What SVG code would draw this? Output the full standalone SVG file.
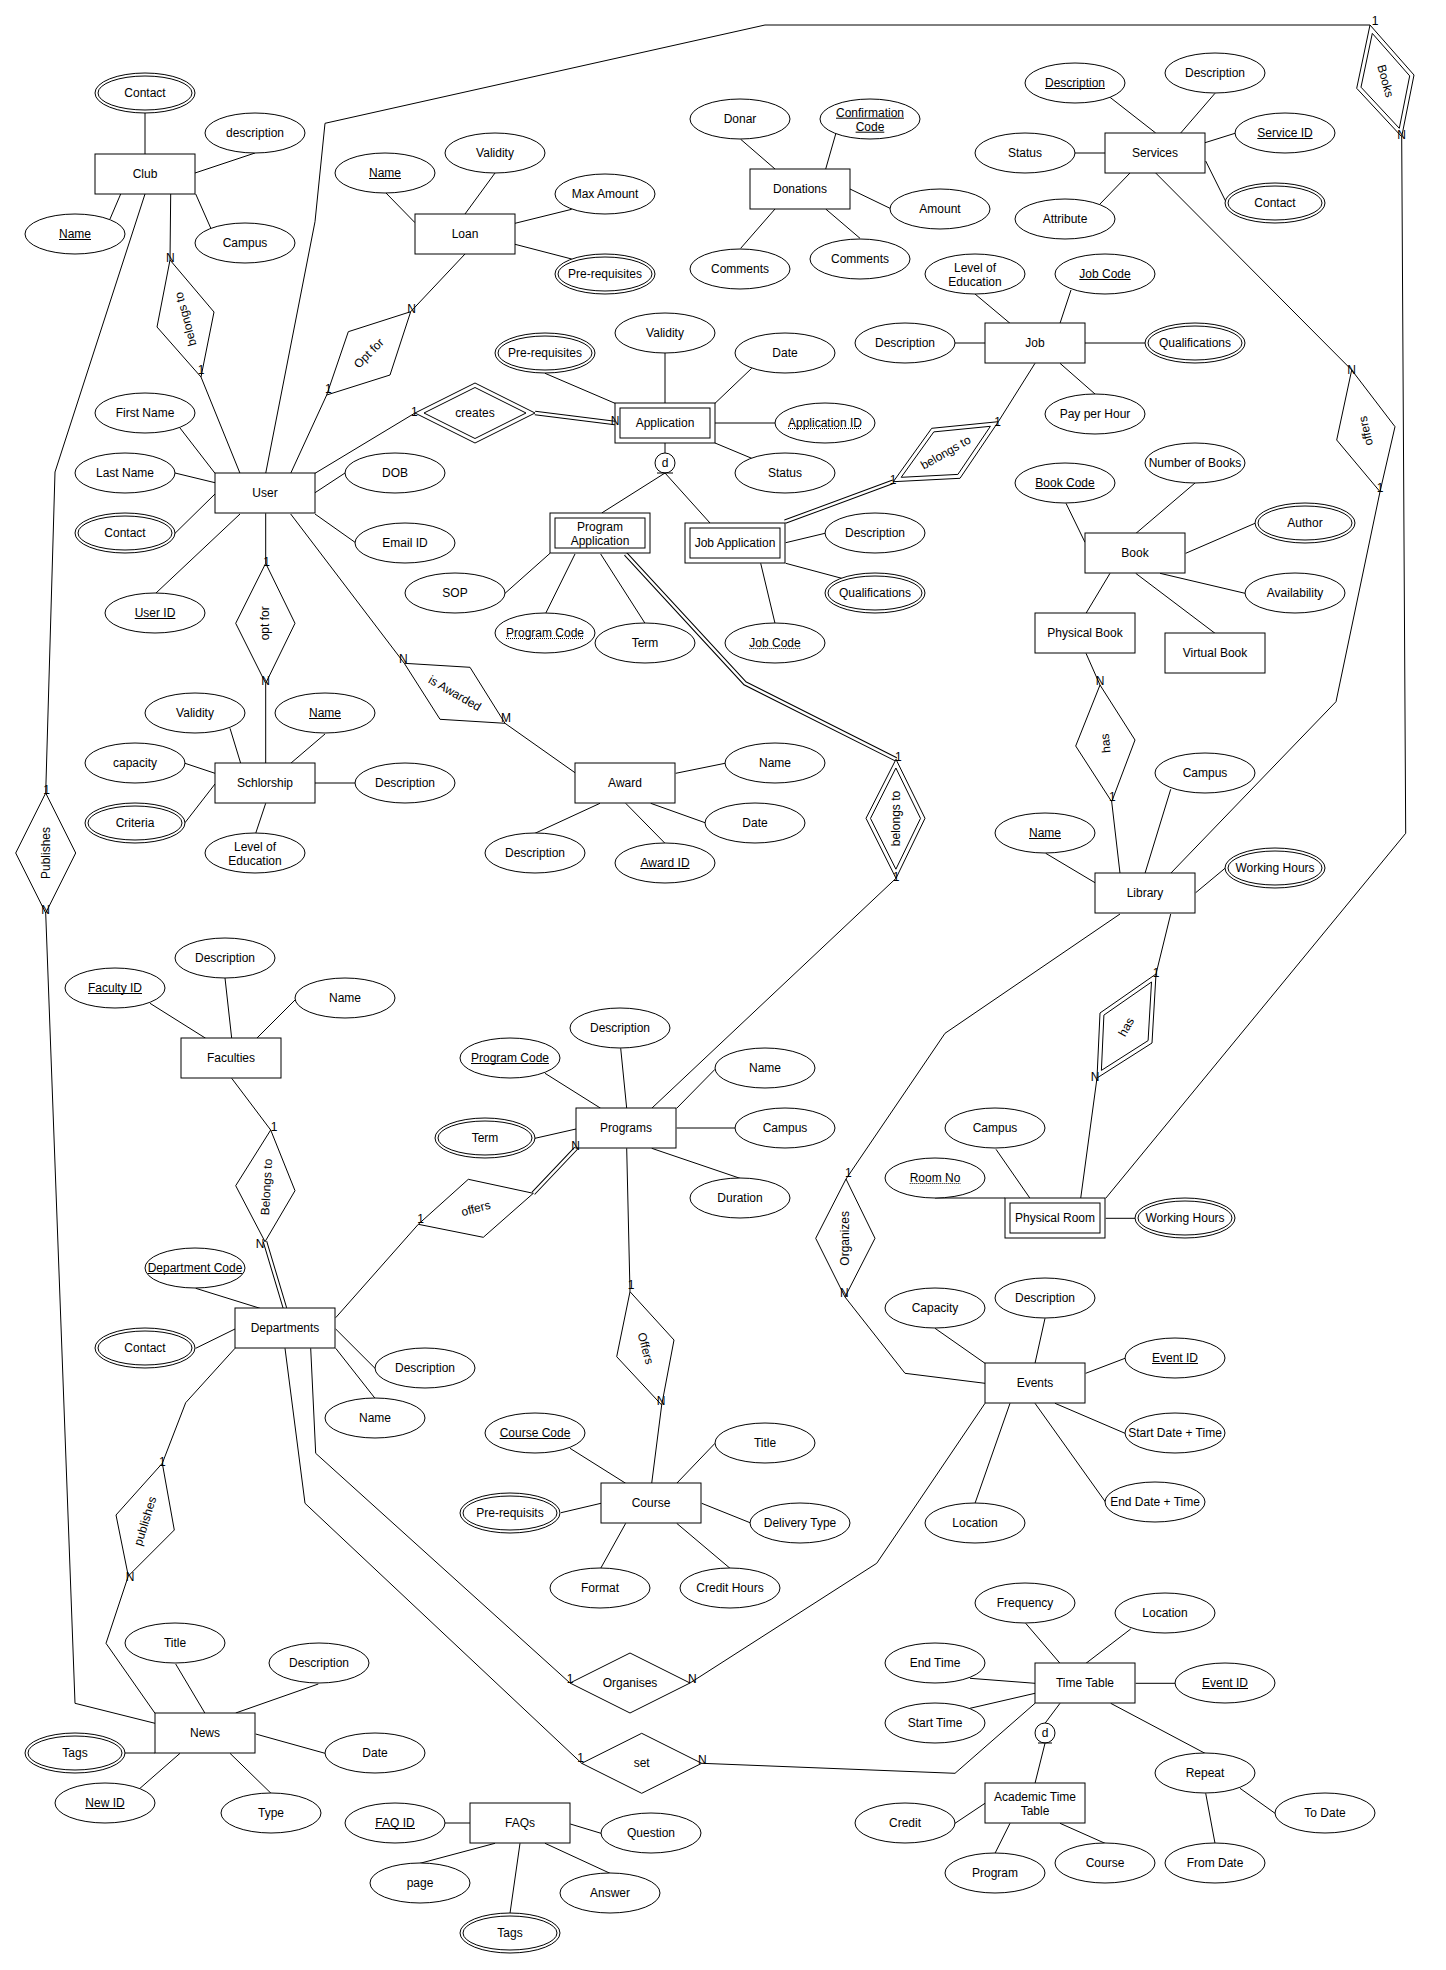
<svg xmlns="http://www.w3.org/2000/svg" width="1446" height="1970" viewBox="0 0 1446 1970">
<style>
.e{fill:#fff;stroke:#000;stroke-width:1}
.c{fill:none;stroke:#000;stroke-width:1}
.dl{fill:none;stroke:#000;stroke-width:4.5}
.dw{fill:none;stroke:#fff;stroke-width:2.5}
.t{font-family:"Liberation Sans",Arial,Helvetica,sans-serif;font-size:12px;text-anchor:middle;fill:#000}
.u{stroke:#000;stroke-width:1;fill:none}
.ud{stroke:#000;stroke-width:1;fill:none;stroke-dasharray:1 1}
</style>
<rect width="1446" height="1970" fill="#fff"/>
<g id="connectors">
<path class="c" d="M145 113L145 154M255 153L195 173M110 219L120.7 194M195.7 194L210.7 228M170.7 194L170 260M201 377L240 473.3"/>
<path class="c" d="M145 194L55 472L45.7 793M45.7 913L75 1703.3L155 1723.3"/>
<path class="c" d="M385.7 192.7L415 222.7M465 214L495 173M515 223.3L571.7 209.3M515 244.3L571.7 259M465 254L410.7 311.7M326.7 395L290.7 473.3"/>
<path class="c" d="M740.7 139.3L775 169M835.7 134L825.7 169M850 189L890 208.3M775 209L740.7 248.3M825.7 209L860 238.3"/>
<path class="c" d="M1110 97.3L1155.7 133M1215 93.3L1180.7 133M1075 153L1105 153M1205 142.7L1235 133.3M1205.7 161L1226.7 203.3M1130 173L1100 204M1155.7 173L1351.7 370M1380 491.7L1336 701.7L1170.7 873.3"/>
<path class="c" d="M975 294L1010 323.3M1071 290L1060 323.3M955 343L985 343M1085 343L1145 343M1060 363.3L1095 394M1035 363.3L998.3 421.7"/>
<path class="c" d="M665 353L665 403M545 373.3L615 403.3M751.7 368.3L715 403.3M715 423L775 423M715 443L751.7 458.3M665 443L665 453M665 473L601.7 513M665 473L710 523M315 473.3L415 413"/>
<path class="c" d="M180 428L215 473.3M175 473L215 482.7M345 473L315 492.7M175 533.3L215 494M155.7 593.3L240 514M315 514L355 542.3M265.7 513.3L265.7 563.3M265.7 683.3L265.7 763.3M290.7 514L404.3 663.3M505 723.3L575 772.7"/>
<path class="c" d="M265.7 473.3L315 221.7L325 123.3L765 25L1370 25M1401.7 136.7L1405.7 833.3L1105.7 1198.3"/>
<path class="c" d="M550 553.3L505 593.3M575 554L545.7 613.3M600.7 554L645 623.3M896 878.3L651.7 1108.3M785.7 542.7L825 533.3M785.7 563.3L841.7 578.3M760.7 563.3L775 623.3"/>
<path class="c" d="M1195 483L1136 533.3M1066 503.3L1085 542.3M1185.7 553.3L1255 523.3M1160 573.3L1245 593.3M1110 573.3L1086 613.3M1135.7 573.3L1215 633.3M1086 653.3L1100 685M1111.7 801.7L1120 873.3"/>
<path class="c" d="M1170.7 789.3L1145 873.3M1045.7 853.3L1095 882.7M1195.7 892.7L1225 868.3M1120 914L945 1033.3L846 1179M1170.7 914L1156 974M1097 1078L1080.7 1198.3"/>
<path class="c" d="M230 728.3L240.7 763.3M325 734L290.7 763.3M185 763.3L215 773.3M315 783L355 783M185 822.7L215 784M265.7 803.3L255.7 833.3"/>
<path class="c" d="M675.7 773.3L725 763.3M650.7 803.3L705 822.7M600 803.3L535 833.3M625.7 803.3L665 843.3"/>
<path class="c" d="M150 1003.3L205.7 1038.3M225 978L231.7 1038.3M295 1000L256.7 1038.3M231.7 1078.3L270.7 1130"/>
<path class="c" d="M195.7 1288.3L260 1308.3M195.7 1348.3L235 1329M335.7 1329L375 1368.3M335.7 1348.3L375 1398.3M335.7 1317.7L418.3 1224.3M235 1348.3L185.7 1402.7L162.3 1463.3M128.3 1576L106 1643.3L155 1713.3M285 1348.3L305 1503.3L581.7 1763.3M310.7 1348.3L315.7 1453.3L570 1683"/>
<path class="c" d="M620.7 1048.3L626.7 1108.3M545 1073.3L600.7 1108.3M676.7 1108.3L715 1069.3M676.7 1128L735 1128M651.7 1148.3L740 1178.3M535 1138.3L576 1129M626.7 1148.3L630 1291.7M661.7 1405L651.7 1483.3"/>
<path class="c" d="M996 1149.3L1030 1198.3M935 1198L1005 1198M1105.7 1218.3L1135 1218.3"/>
<path class="c" d="M935 1328.3L985 1363.3M1045 1318.3L1035 1363.3M1085.7 1373.3L1125 1358.3M1055 1403.3L1125 1433.3M1035 1403.3L1105.7 1502.3M1010 1403.3L975 1503.3M845 1297L905 1373.3L985 1383.3M985 1403.3L876.7 1563.3L690 1683"/>
<path class="c" d="M570 1448.3L625.7 1483.3M715 1443.3L676.7 1483.3M561 1512.7L601 1503.3M701.7 1503.3L750 1522.7M625.7 1523.3L600.7 1568.3M676.7 1523.3L730 1568.3"/>
<path class="c" d="M1025.7 1623.3L1060 1663.3M1130.7 1629L1086 1663.3M1135.7 1683.3L1175 1683.3M970 1678.3L1035 1683.3M970 1708.3L1035 1693.3M1035 1703.3L955 1773.3L701.7 1763.3M1060 1703.3L1045 1723.3M1045 1743.3L1035 1783.3M1110.7 1703.3L1205 1753.3M1240 1788.3L1275 1813.3M1205.7 1793.3L1215 1843.3"/>
<path class="c" d="M955 1823.3L985 1803.3M1010 1823.3L995 1853.3M1060 1823.3L1105 1843.3"/>
<path class="c" d="M175.7 1664L205 1713.3M318.3 1684L235.7 1713M255.7 1734L325 1753.3M125 1753L155 1753M180 1753.3L140 1788.3M230 1753.3L271 1793.3"/>
<path class="c" d="M445 1823L470 1823M570.3 1824L601 1833.3M545 1843.3L610 1873.3M520 1843.3L510 1913.3M495 1843.3L420 1863.3"/>
<path class="dl" d="M535 413L615 423M893.3 481.7L785 521.7M625.7 554L745 683.3L896 759.3M265 1241.7L285 1308.3M533.3 1193.3L576 1148.3"/>
<path class="dw" d="M535 413L615 423M893.3 481.7L785 521.7M625.7 554L745 683.3L896 759.3M265 1241.7L285 1308.3M533.3 1193.3L576 1148.3"/>
</g>

<g id="club"><rect class="e" x="95" y="154" width="100" height="40"/><text class="t" x="145" y="178">Club</text></g>
<g id="club-contact"><ellipse class="e" cx="145" cy="93" rx="50" ry="20"/><ellipse class="e" cx="145" cy="93" rx="47" ry="17"/><text class="t" x="145" y="97">Contact</text></g>
<g id="club-description"><ellipse class="e" cx="255" cy="133" rx="50" ry="20"/><text class="t" x="255" y="137">description</text></g>
<g id="club-name"><ellipse class="e" cx="75" cy="234" rx="50" ry="20"/><text class="t" x="75" y="238">Name</text><path class="u" d="M59 239.5h32"/></g>
<g id="club-campus"><ellipse class="e" cx="245" cy="243" rx="50" ry="20"/><text class="t" x="245" y="247">Campus</text></g>

<g id="loan"><rect class="e" x="415" y="214" width="100" height="40"/><text class="t" x="465" y="238">Loan</text></g>
<g id="loan-name"><ellipse class="e" cx="385" cy="173" rx="50" ry="20"/><text class="t" x="385" y="177">Name</text><path class="u" d="M369 178.5h32"/></g>
<g id="loan-validity"><ellipse class="e" cx="495" cy="153" rx="50" ry="20"/><text class="t" x="495" y="157">Validity</text></g>
<g id="loan-max"><ellipse class="e" cx="605" cy="194" rx="50" ry="20"/><text class="t" x="605" y="198">Max Amount</text></g>
<g id="loan-prereq"><ellipse class="e" cx="605" cy="274" rx="50" ry="20"/><ellipse class="e" cx="605" cy="274" rx="47" ry="17"/><text class="t" x="605" y="278">Pre-requisites</text></g>

<g id="donations"><rect class="e" x="750" y="169" width="100" height="40"/><text class="t" x="800" y="193">Donations</text></g>
<g id="don-donar"><ellipse class="e" cx="740" cy="119" rx="50" ry="20"/><text class="t" x="740" y="123">Donar</text></g>
<g id="don-code"><ellipse class="e" cx="870" cy="119" rx="50" ry="20"/><text class="t" x="870" y="117">Confirmation</text><text class="t" x="870" y="131">Code</text><path class="u" d="M836 118.2h68M855.6 132.2h28.7"/></g>
<g id="don-amount"><ellipse class="e" cx="940" cy="209" rx="50" ry="20"/><text class="t" x="940" y="213">Amount</text></g>
<g id="don-comments1"><ellipse class="e" cx="740" cy="269" rx="50" ry="20"/><text class="t" x="740" y="273">Comments</text></g>
<g id="don-comments2"><ellipse class="e" cx="860" cy="259" rx="50" ry="20"/><text class="t" x="860" y="263">Comments</text></g>

<g id="services"><rect class="e" x="1105" y="133" width="100" height="40"/><text class="t" x="1155" y="157">Services</text></g>
<g id="srv-desc-key"><ellipse class="e" cx="1075" cy="83" rx="50" ry="20"/><text class="t" x="1075" y="87">Description</text><path class="u" d="M1045 88.5h60"/></g>
<g id="srv-desc"><ellipse class="e" cx="1215" cy="73" rx="50" ry="20"/><text class="t" x="1215" y="77">Description</text></g>
<g id="srv-status"><ellipse class="e" cx="1025" cy="153" rx="50" ry="20"/><text class="t" x="1025" y="157">Status</text></g>
<g id="srv-id"><ellipse class="e" cx="1285" cy="133" rx="50" ry="20"/><text class="t" x="1285" y="137">Service ID</text><path class="u" d="M1257.3 138.5h55.3"/></g>
<g id="srv-contact"><ellipse class="e" cx="1275" cy="203" rx="50" ry="20"/><ellipse class="e" cx="1275" cy="203" rx="47" ry="17"/><text class="t" x="1275" y="207">Contact</text></g>
<g id="srv-attr"><ellipse class="e" cx="1065" cy="219" rx="50" ry="20"/><text class="t" x="1065" y="223">Attribute</text></g>

<g id="job"><rect class="e" x="985" y="323" width="100" height="40"/><text class="t" x="1035" y="347">Job</text></g>
<g id="job-loe"><ellipse class="e" cx="975" cy="274" rx="50" ry="20"/><text class="t" x="975" y="272">Level of</text><text class="t" x="975" y="286">Education</text></g>
<g id="job-code"><ellipse class="e" cx="1105" cy="274" rx="50" ry="20"/><text class="t" x="1105" y="278">Job Code</text><path class="u" d="M1079.3 279.5h51.4"/></g>
<g id="job-desc"><ellipse class="e" cx="905" cy="343" rx="50" ry="20"/><text class="t" x="905" y="347">Description</text></g>
<g id="job-qual"><ellipse class="e" cx="1195" cy="343" rx="50" ry="20"/><ellipse class="e" cx="1195" cy="343" rx="47" ry="17"/><text class="t" x="1195" y="347">Qualifications</text></g>
<g id="job-pay"><ellipse class="e" cx="1095" cy="414" rx="50" ry="20"/><text class="t" x="1095" y="418">Pay per Hour</text></g>

<g id="application"><rect class="e" x="615" y="403" width="100" height="40"/><rect class="e" x="620" y="408" width="90" height="30"/><text class="t" x="665" y="427">Application</text></g>
<g id="app-prereq"><ellipse class="e" cx="545" cy="353" rx="50" ry="20"/><ellipse class="e" cx="545" cy="353" rx="47" ry="17"/><text class="t" x="545" y="357">Pre-requisites</text></g>
<g id="app-validity"><ellipse class="e" cx="665" cy="333" rx="50" ry="20"/><text class="t" x="665" y="337">Validity</text></g>
<g id="app-date"><ellipse class="e" cx="785" cy="353" rx="50" ry="20"/><text class="t" x="785" y="357">Date</text></g>
<g id="app-id"><ellipse class="e" cx="825" cy="423" rx="50" ry="20"/><text class="t" x="825" y="427">Application ID</text><path class="ud" d="M788 428.5h74"/></g>
<g id="app-status"><ellipse class="e" cx="785" cy="473" rx="50" ry="20"/><text class="t" x="785" y="477">Status</text></g>
<g id="app-disjoint"><circle class="e" cx="665" cy="463" r="10"/><text class="t" x="665" y="467">d</text><path class="u" d="M657 473h16"/></g>

<g id="user"><rect class="e" x="215" y="473" width="100" height="40"/><text class="t" x="265" y="497">User</text></g>
<g id="user-first"><ellipse class="e" cx="145" cy="413" rx="50" ry="20"/><text class="t" x="145" y="417">First Name</text></g>
<g id="user-last"><ellipse class="e" cx="125" cy="473" rx="50" ry="20"/><text class="t" x="125" y="477">Last Name</text></g>
<g id="user-dob"><ellipse class="e" cx="395" cy="473" rx="50" ry="20"/><text class="t" x="395" y="477">DOB</text></g>
<g id="user-contact"><ellipse class="e" cx="125" cy="533" rx="50" ry="20"/><ellipse class="e" cx="125" cy="533" rx="47" ry="17"/><text class="t" x="125" y="537">Contact</text></g>
<g id="user-email"><ellipse class="e" cx="405" cy="543" rx="50" ry="20"/><text class="t" x="405" y="547">Email ID</text></g>
<g id="user-id"><ellipse class="e" cx="155" cy="613" rx="50" ry="20"/><text class="t" x="155" y="617">User ID</text><path class="u" d="M134.7 618.5h40.7"/></g>

<g id="program-application"><rect class="e" x="550" y="513" width="100" height="40"/><rect class="e" x="555" y="518" width="90" height="30"/><text class="t" x="600" y="531">Program</text><text class="t" x="600" y="545">Application</text></g>
<g id="pa-sop"><ellipse class="e" cx="455" cy="593" rx="50" ry="20"/><text class="t" x="455" y="597">SOP</text></g>
<g id="pa-code"><ellipse class="e" cx="545" cy="633" rx="50" ry="20"/><text class="t" x="545" y="637">Program Code</text><path class="ud" d="M506 638.5h78"/></g>
<g id="pa-term"><ellipse class="e" cx="645" cy="643" rx="50" ry="20"/><text class="t" x="645" y="647">Term</text></g>

<g id="job-application"><rect class="e" x="685" y="523" width="100" height="40"/><rect class="e" x="690" y="528" width="90" height="30"/><text class="t" x="735" y="547">Job Application</text></g>
<g id="ja-desc"><ellipse class="e" cx="875" cy="533" rx="50" ry="20"/><text class="t" x="875" y="537">Description</text></g>
<g id="ja-qual"><ellipse class="e" cx="875" cy="593" rx="50" ry="20"/><ellipse class="e" cx="875" cy="593" rx="47" ry="17"/><text class="t" x="875" y="597">Qualifications</text></g>
<g id="ja-code"><ellipse class="e" cx="775" cy="643" rx="50" ry="20"/><text class="t" x="775" y="647">Job Code</text><path class="ud" d="M749.3 648.5h51.4"/></g>

<g id="book"><rect class="e" x="1085" y="533" width="100" height="40"/><text class="t" x="1135" y="557">Book</text></g>
<g id="book-code"><ellipse class="e" cx="1065" cy="483" rx="50" ry="20"/><text class="t" x="1065" y="487">Book Code</text><path class="u" d="M1035.3 488.5h59.4"/></g>
<g id="book-num"><ellipse class="e" cx="1195" cy="463" rx="50" ry="20"/><text class="t" x="1195" y="467">Number of Books</text></g>
<g id="book-author"><ellipse class="e" cx="1305" cy="523" rx="50" ry="20"/><ellipse class="e" cx="1305" cy="523" rx="47" ry="17"/><text class="t" x="1305" y="527">Author</text></g>
<g id="book-avail"><ellipse class="e" cx="1295" cy="593" rx="50" ry="20"/><text class="t" x="1295" y="597">Availability</text></g>
<g id="physical-book"><rect class="e" x="1035" y="613" width="100" height="40"/><text class="t" x="1085" y="637">Physical Book</text></g>
<g id="virtual-book"><rect class="e" x="1165" y="633" width="100" height="40"/><text class="t" x="1215" y="657">Virtual Book</text></g>

<g id="schlorship"><rect class="e" x="215" y="763" width="100" height="40"/><text class="t" x="265" y="787">Schlorship</text></g>
<g id="sch-validity"><ellipse class="e" cx="195" cy="713" rx="50" ry="20"/><text class="t" x="195" y="717">Validity</text></g>
<g id="sch-name"><ellipse class="e" cx="325" cy="713" rx="50" ry="20"/><text class="t" x="325" y="717">Name</text><path class="u" d="M309 718.5h32"/></g>
<g id="sch-capacity"><ellipse class="e" cx="135" cy="763" rx="50" ry="20"/><text class="t" x="135" y="767">capacity</text></g>
<g id="sch-desc"><ellipse class="e" cx="405" cy="783" rx="50" ry="20"/><text class="t" x="405" y="787">Description</text></g>
<g id="sch-criteria"><ellipse class="e" cx="135" cy="823" rx="50" ry="20"/><ellipse class="e" cx="135" cy="823" rx="47" ry="17"/><text class="t" x="135" y="827">Criteria</text></g>
<g id="sch-loe"><ellipse class="e" cx="255" cy="853" rx="50" ry="20"/><text class="t" x="255" y="851">Level of</text><text class="t" x="255" y="865">Education</text></g>

<g id="award"><rect class="e" x="575" y="763" width="100" height="40"/><text class="t" x="625" y="787">Award</text></g>
<g id="aw-name"><ellipse class="e" cx="775" cy="763" rx="50" ry="20"/><text class="t" x="775" y="767">Name</text></g>
<g id="aw-date"><ellipse class="e" cx="755" cy="823" rx="50" ry="20"/><text class="t" x="755" y="827">Date</text></g>
<g id="aw-desc"><ellipse class="e" cx="535" cy="853" rx="50" ry="20"/><text class="t" x="535" y="857">Description</text></g>
<g id="aw-id"><ellipse class="e" cx="665" cy="863" rx="50" ry="20"/><text class="t" x="665" y="867">Award ID</text><path class="u" d="M640.3 868.5h49.3"/></g>

<g id="library"><rect class="e" x="1095" y="873" width="100" height="40"/><text class="t" x="1145" y="897">Library</text></g>
<g id="lib-campus"><ellipse class="e" cx="1205" cy="773" rx="50" ry="20"/><text class="t" x="1205" y="777">Campus</text></g>
<g id="lib-name"><ellipse class="e" cx="1045" cy="833" rx="50" ry="20"/><text class="t" x="1045" y="837">Name</text><path class="u" d="M1029 838.5h32"/></g>
<g id="lib-hours"><ellipse class="e" cx="1275" cy="868" rx="50" ry="20"/><ellipse class="e" cx="1275" cy="868" rx="47" ry="17"/><text class="t" x="1275" y="872">Working Hours</text></g>

<g id="faculties"><rect class="e" x="181" y="1038" width="100" height="40"/><text class="t" x="231" y="1062">Faculties</text></g>
<g id="fac-desc"><ellipse class="e" cx="225" cy="958" rx="50" ry="20"/><text class="t" x="225" y="962">Description</text></g>
<g id="fac-id"><ellipse class="e" cx="115" cy="988" rx="50" ry="20"/><text class="t" x="115" y="992">Faculty ID</text><path class="u" d="M88 993.5h54"/></g>
<g id="fac-name"><ellipse class="e" cx="345" cy="998" rx="50" ry="20"/><text class="t" x="345" y="1002">Name</text></g>

<g id="programs"><rect class="e" x="576" y="1108" width="100" height="40"/><text class="t" x="626" y="1132">Programs</text></g>
<g id="prog-desc"><ellipse class="e" cx="620" cy="1028" rx="50" ry="20"/><text class="t" x="620" y="1032">Description</text></g>
<g id="prog-code"><ellipse class="e" cx="510" cy="1058" rx="50" ry="20"/><text class="t" x="510" y="1062">Program Code</text><path class="u" d="M471 1063.5h78"/></g>
<g id="prog-name"><ellipse class="e" cx="765" cy="1068" rx="50" ry="20"/><text class="t" x="765" y="1072">Name</text></g>
<g id="prog-term"><ellipse class="e" cx="485" cy="1138" rx="50" ry="20"/><ellipse class="e" cx="485" cy="1138" rx="47" ry="17"/><text class="t" x="485" y="1142">Term</text></g>
<g id="prog-campus"><ellipse class="e" cx="785" cy="1128" rx="50" ry="20"/><text class="t" x="785" y="1132">Campus</text></g>
<g id="prog-duration"><ellipse class="e" cx="740" cy="1198" rx="50" ry="20"/><text class="t" x="740" y="1202">Duration</text></g>

<g id="physical-room"><rect class="e" x="1005" y="1198" width="100" height="40"/><rect class="e" x="1010" y="1203" width="90" height="30"/><text class="t" x="1055" y="1222">Physical Room</text></g>
<g id="room-campus"><ellipse class="e" cx="995" cy="1128" rx="50" ry="20"/><text class="t" x="995" y="1132">Campus</text></g>
<g id="room-no"><ellipse class="e" cx="935" cy="1178" rx="50" ry="20"/><text class="t" x="935" y="1182">Room No</text><path class="ud" d="M909.7 1183.5h50.7"/></g>
<g id="room-hours"><ellipse class="e" cx="1185" cy="1218" rx="50" ry="20"/><ellipse class="e" cx="1185" cy="1218" rx="47" ry="17"/><text class="t" x="1185" y="1222">Working Hours</text></g>

<g id="departments"><rect class="e" x="235" y="1308" width="100" height="40"/><text class="t" x="285" y="1332">Departments</text></g>
<g id="dep-code"><ellipse class="e" cx="195" cy="1268" rx="50" ry="20"/><text class="t" x="195" y="1272">Department Code</text><path class="u" d="M147.7 1273.5h94.7"/></g>
<g id="dep-contact"><ellipse class="e" cx="145" cy="1348" rx="50" ry="20"/><ellipse class="e" cx="145" cy="1348" rx="47" ry="17"/><text class="t" x="145" y="1352">Contact</text></g>
<g id="dep-desc"><ellipse class="e" cx="425" cy="1368" rx="50" ry="20"/><text class="t" x="425" y="1372">Description</text></g>
<g id="dep-name"><ellipse class="e" cx="375" cy="1418" rx="50" ry="20"/><text class="t" x="375" y="1422">Name</text></g>

<g id="events"><rect class="e" x="985" y="1363" width="100" height="40"/><text class="t" x="1035" y="1387">Events</text></g>
<g id="ev-capacity"><ellipse class="e" cx="935" cy="1308" rx="50" ry="20"/><text class="t" x="935" y="1312">Capacity</text></g>
<g id="ev-desc"><ellipse class="e" cx="1045" cy="1298" rx="50" ry="20"/><text class="t" x="1045" y="1302">Description</text></g>
<g id="ev-id"><ellipse class="e" cx="1175" cy="1358" rx="50" ry="20"/><text class="t" x="1175" y="1362">Event ID</text><path class="u" d="M1152 1363.5h46"/></g>
<g id="ev-start"><ellipse class="e" cx="1175" cy="1433" rx="50" ry="20"/><text class="t" x="1175" y="1437">Start Date + Time</text></g>
<g id="ev-end"><ellipse class="e" cx="1155" cy="1502" rx="50" ry="20"/><text class="t" x="1155" y="1506">End Date + Time</text></g>
<g id="ev-location"><ellipse class="e" cx="975" cy="1523" rx="50" ry="20"/><text class="t" x="975" y="1527">Location</text></g>

<g id="course"><rect class="e" x="601" y="1483" width="100" height="40"/><text class="t" x="651" y="1507">Course</text></g>
<g id="co-code"><ellipse class="e" cx="535" cy="1433" rx="50" ry="20"/><text class="t" x="535" y="1437">Course Code</text><path class="u" d="M499.7 1438.5h70.7"/></g>
<g id="co-title"><ellipse class="e" cx="765" cy="1443" rx="50" ry="20"/><text class="t" x="765" y="1447">Title</text></g>
<g id="co-prereq"><ellipse class="e" cx="510" cy="1513" rx="50" ry="20"/><ellipse class="e" cx="510" cy="1513" rx="47" ry="17"/><text class="t" x="510" y="1517">Pre-requisits</text></g>
<g id="co-delivery"><ellipse class="e" cx="800" cy="1523" rx="50" ry="20"/><text class="t" x="800" y="1527">Delivery Type</text></g>
<g id="co-format"><ellipse class="e" cx="600" cy="1588" rx="50" ry="20"/><text class="t" x="600" y="1592">Format</text></g>
<g id="co-credit"><ellipse class="e" cx="730" cy="1588" rx="50" ry="20"/><text class="t" x="730" y="1592">Credit Hours</text></g>

<g id="time-table"><rect class="e" x="1035" y="1663" width="100" height="40"/><text class="t" x="1085" y="1687">Time Table</text></g>
<g id="tt-freq"><ellipse class="e" cx="1025" cy="1603" rx="50" ry="20"/><text class="t" x="1025" y="1607">Frequency</text></g>
<g id="tt-location"><ellipse class="e" cx="1165" cy="1613" rx="50" ry="20"/><text class="t" x="1165" y="1617">Location</text></g>
<g id="tt-end"><ellipse class="e" cx="935" cy="1663" rx="50" ry="20"/><text class="t" x="935" y="1667">End Time</text></g>
<g id="tt-id"><ellipse class="e" cx="1225" cy="1683" rx="50" ry="20"/><text class="t" x="1225" y="1687">Event ID</text><path class="u" d="M1202 1688.5h46"/></g>
<g id="tt-start"><ellipse class="e" cx="935" cy="1723" rx="50" ry="20"/><text class="t" x="935" y="1727">Start Time</text></g>
<g id="tt-repeat"><ellipse class="e" cx="1205" cy="1773" rx="50" ry="20"/><text class="t" x="1205" y="1777">Repeat</text></g>
<g id="tt-todate"><ellipse class="e" cx="1325" cy="1813" rx="50" ry="20"/><text class="t" x="1325" y="1817">To Date</text></g>
<g id="tt-fromdate"><ellipse class="e" cx="1215" cy="1863" rx="50" ry="20"/><text class="t" x="1215" y="1867">From Date</text></g>
<g id="tt-disjoint"><circle class="e" cx="1045" cy="1733" r="10"/><text class="t" x="1045" y="1737">d</text><path class="u" d="M1038 1743h14"/></g>

<g id="academic-time-table"><rect class="e" x="985" y="1783" width="100" height="40"/><text class="t" x="1035" y="1801">Academic Time</text><text class="t" x="1035" y="1815">Table</text></g>
<g id="att-credit"><ellipse class="e" cx="905" cy="1823" rx="50" ry="20"/><text class="t" x="905" y="1827">Credit</text></g>
<g id="att-program"><ellipse class="e" cx="995" cy="1873" rx="50" ry="20"/><text class="t" x="995" y="1877">Program</text></g>
<g id="att-course"><ellipse class="e" cx="1105" cy="1863" rx="50" ry="20"/><text class="t" x="1105" y="1867">Course</text></g>

<g id="news"><rect class="e" x="155" y="1713" width="100" height="40"/><text class="t" x="205" y="1737">News</text></g>
<g id="news-title"><ellipse class="e" cx="175" cy="1643" rx="50" ry="20"/><text class="t" x="175" y="1647">Title</text></g>
<g id="news-desc"><ellipse class="e" cx="319" cy="1663" rx="50" ry="20"/><text class="t" x="319" y="1667">Description</text></g>
<g id="news-tags"><ellipse class="e" cx="75" cy="1753" rx="50" ry="20"/><ellipse class="e" cx="75" cy="1753" rx="47" ry="17"/><text class="t" x="75" y="1757">Tags</text></g>
<g id="news-date"><ellipse class="e" cx="375" cy="1753" rx="50" ry="20"/><text class="t" x="375" y="1757">Date</text></g>
<g id="news-id"><ellipse class="e" cx="105" cy="1803" rx="50" ry="20"/><text class="t" x="105" y="1807">New ID</text><path class="u" d="M85.3 1808.5h39.3"/></g>
<g id="news-type"><ellipse class="e" cx="271" cy="1813" rx="50" ry="20"/><text class="t" x="271" y="1817">Type</text></g>

<g id="faqs"><rect class="e" x="470" y="1803" width="100" height="40"/><text class="t" x="520" y="1827">FAQs</text></g>
<g id="faq-id"><ellipse class="e" cx="395" cy="1823" rx="50" ry="20"/><text class="t" x="395" y="1827">FAQ ID</text><path class="u" d="M375 1828.5h40"/></g>
<g id="faq-question"><ellipse class="e" cx="651" cy="1833" rx="50" ry="20"/><text class="t" x="651" y="1837">Question</text></g>
<g id="faq-page"><ellipse class="e" cx="420" cy="1883" rx="50" ry="20"/><text class="t" x="420" y="1887">page</text></g>
<g id="faq-answer"><ellipse class="e" cx="610" cy="1893" rx="50" ry="20"/><text class="t" x="610" y="1897">Answer</text></g>
<g id="faq-tags"><ellipse class="e" cx="510" cy="1933" rx="50" ry="20"/><ellipse class="e" cx="510" cy="1933" rx="47" ry="17"/><text class="t" x="510" y="1937">Tags</text></g>

<g id="rel-club-belongs"><polygon class="e" points="170,260 214,312 201,377 157,327"/><text class="t" transform="rotate(-105 185.5 319)" x="185.5" y="323">belongs to</text></g>
<g id="rel-opt-for-loan"><polygon class="e" points="410.7,311.7 390,375 326.7,395 348.3,331.7"/><text class="t" transform="rotate(-45 368.8 353.3)" x="368.8" y="357.3">Opt for</text></g>
<g id="rel-creates"><polygon class="e" points="415,413 475,383 535,413 475,443"/><polygon class="e" points="424,413 475,387.5 526,413 475,438.5"/><text class="t" x="475" y="417">creates</text></g>
<g id="rel-job-belongs"><polygon class="e" points="893.3,481.7 931.7,428.3 998.3,421.7 960,478.3"/><polygon class="e" points="901.2,477.3 933.8,431.9 990.4,426.3 957.9,474.4"/><text class="t" transform="rotate(-30 945.8 452.5)" x="945.8" y="456.5">belongs to</text></g>
<g id="rel-books"><polygon class="e" points="1370,25 1414,75 1401.7,136.7 1356.7,88.3"/><polygon class="e" points="1372.3,33.4 1409.7,75.9 1399.3,128.3 1361,87.2"/><text class="t" transform="rotate(75 1385.5 81)" x="1385.5" y="85">Books</text></g>
<g id="rel-offers-services"><polygon class="e" points="1351.7,370 1395,426.7 1380,491.7 1336.7,440"/><text class="t" transform="rotate(-103 1365.8 430.8)" x="1365.8" y="434.8">offers</text></g>
<g id="rel-has-book"><polygon class="e" points="1100,685 1135,740 1111.7,801.7 1075.7,746"/><text class="t" transform="rotate(-96 1105.6 743.2)" x="1105.6" y="747.2">has</text></g>
<g id="rel-has-room"><polygon class="e" points="1156,974 1152,1043 1097,1078 1100,1013"/><polygon class="e" points="1151.5,982 1148.1,1040.6 1101.4,1070.4 1103.9,1015.1"/><text class="t" transform="rotate(-60 1126.3 1027)" x="1126.3" y="1031">has</text></g>
<g id="rel-opt-for-sch"><polygon class="e" points="265.7,563.3 295,623.3 265.7,683.3 235.7,623.3"/><text class="t" transform="rotate(-90 265.5 623.3)" x="265.5" y="627.3">opt for</text></g>
<g id="rel-is-awarded"><polygon class="e" points="404.3,663.3 470,667.3 505,723.3 440,719.3"/><text class="t" transform="rotate(30 454.8 693.3)" x="454.8" y="697.3">is Awarded</text></g>
<g id="rel-publishes-club"><polygon class="e" points="45.7,793 75.7,853 45.7,913 15.7,853"/><text class="t" transform="rotate(-90 45.7 853)" x="45.7" y="857">Publishes</text></g>
<g id="rel-pa-belongs"><polygon class="e" points="896,759.3 925,818.3 896,878.3 866,818.3"/><polygon class="e" points="895.9,768 920.5,818.4 895.9,869.2 870.5,818.4"/><text class="t" transform="rotate(-90 895.5 818.5)" x="895.5" y="822.5">belongs to</text></g>
<g id="rel-fac-belongs"><polygon class="e" points="270.7,1130 295,1190.7 265,1241.7 235.7,1185.7"/><text class="t" transform="rotate(-87 266.6 1187)" x="266.6" y="1191">Belongs to</text></g>
<g id="rel-offers-dept"><polygon class="e" points="418.3,1224.3 468.3,1179.3 533.3,1193.3 483.3,1237.3"/><text class="t" transform="rotate(-15 475.8 1208.5)" x="475.8" y="1212.5">offers</text></g>
<g id="rel-offers-course"><polygon class="e" points="630,1291.7 674,1340 661.7,1405 616.7,1356.7"/><text class="t" transform="rotate(75 645.6 1348.3)" x="645.6" y="1352.3">Offers</text></g>
<g id="rel-organizes"><polygon class="e" points="846,1179 875,1238.3 845,1297 815.7,1238.3"/><text class="t" transform="rotate(-90 845.4 1238.3)" x="845.4" y="1242.3">Organizes</text></g>
<g id="rel-publishes-dept"><polygon class="e" points="162.3,1463.3 174.3,1530 128.3,1576 116,1515"/><text class="t" transform="rotate(-73 145.2 1521)" x="145.2" y="1525">publishes</text></g>
<g id="rel-organises"><polygon class="e" points="570,1683 630,1653 690,1683 630,1713"/><text class="t" x="630" y="1687">Organises</text></g>
<g id="rel-set"><polygon class="e" points="581.7,1763.3 641.7,1733.3 701.7,1763.3 641.7,1793.3"/><text class="t" x="641.7" y="1767.3">set</text></g>

<g id="cardinality-labels" class="t">
<text x="170.3" y="262">N</text><text x="201" y="374">1</text>
<text x="411.7" y="313">N</text><text x="328.3" y="393">1</text>
<text x="414.3" y="416">1</text><text x="615" y="425">N</text>
<text x="893" y="484">1</text><text x="997.7" y="426">1</text>
<text x="1375" y="24.5">1</text><text x="1401.7" y="139">N</text>
<text x="1351.7" y="374">N</text><text x="1380" y="492">1</text>
<text x="1100" y="684.7">N</text><text x="1112.3" y="800.7">1</text>
<text x="1156" y="977">1</text><text x="1095" y="1080.7">N</text>
<text x="266.7" y="565.7">1</text><text x="265.7" y="684.7">N</text>
<text x="403.3" y="663.3">N</text><text x="506" y="722.3">M</text>
<text x="46.7" y="794">1</text><text x="45.7" y="914">N</text>
<text x="898.3" y="760.7">1</text><text x="896" y="880.7">1</text>
<text x="274" y="1130.7">1</text><text x="260" y="1248">N</text>
<text x="420.7" y="1223.3">1</text><text x="575.7" y="1149.7">N</text>
<text x="631" y="1289">1</text><text x="661" y="1404.7">N</text>
<text x="848.3" y="1176.7">1</text><text x="844.3" y="1296.7">N</text>
<text x="162.3" y="1465.7">1</text><text x="130" y="1581.3">N</text>
<text x="570" y="1683">1</text><text x="692.3" y="1683.3">N</text>
<text x="580.7" y="1762.3">1</text><text x="702.3" y="1764">N</text>
</g>
</svg>
